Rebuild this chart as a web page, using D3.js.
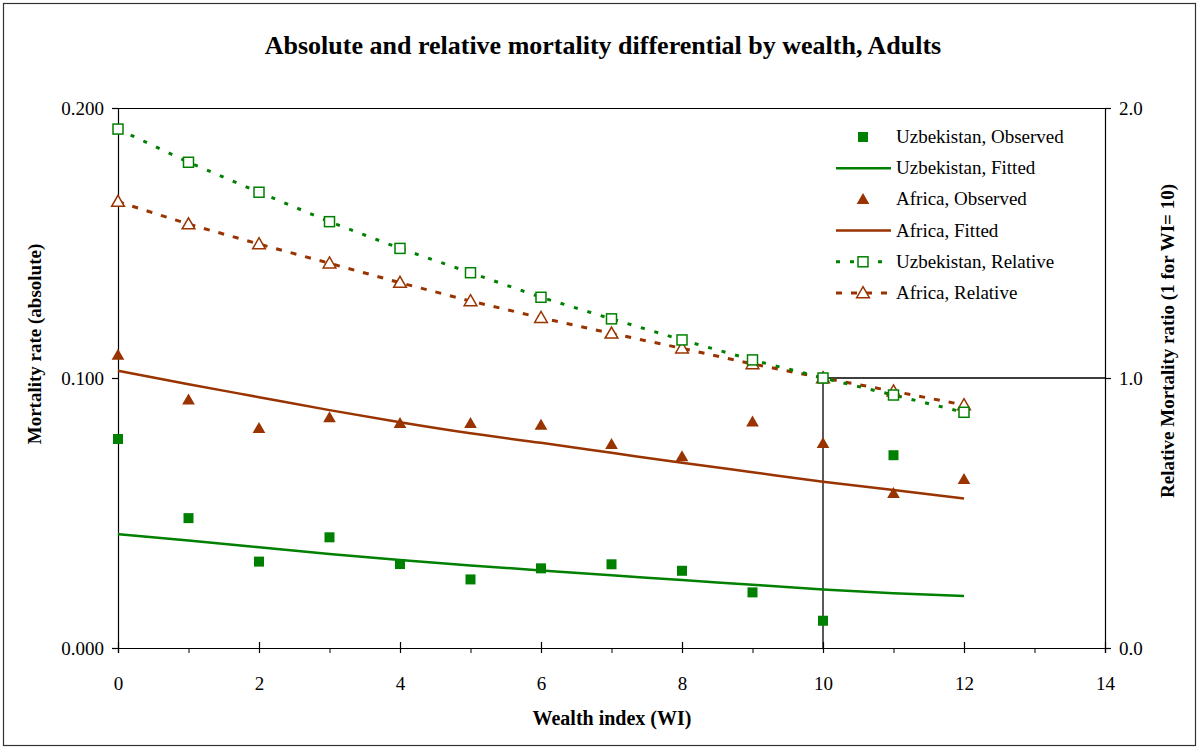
<!DOCTYPE html>
<html>
<head>
<meta charset="utf-8">
<script src="https://cdn.jsdelivr.net/npm/d3@7"></script>
<style>
  html, body { margin: 0; padding: 0; background: #fff; }
  svg { display: block; font-family: "Liberation Serif", "Times New Roman", serif; }
</style>
</head>
<body>
<svg id="chart" width="1199" height="749"></svg>
<script>
// ---- data ----
const wealth = [0, 1, 2, 3, 4, 5, 6, 7, 8, 9, 10, 11, 12];

const uzbObserved = [0.0774, 0.0481, 0.0320, 0.0410, 0.0311, 0.0254, 0.0295, 0.0310, 0.0286, 0.0206, 0.0101, 0.0714, null];
const uzbFitted   = [0.0422, 0.0398, 0.0373, 0.0348, 0.0326, 0.0306, 0.0287, 0.0269, 0.0252, 0.0234, 0.0217, 0.0203, 0.0193];
const afrObserved = [0.1085, 0.0919, 0.0814, 0.0853, 0.0832, 0.0832, 0.0826, 0.0754, 0.0709, 0.0838, 0.0758, 0.0573, 0.0625];
const afrFitted   = [0.1027, 0.0977, 0.0929, 0.0881, 0.0836, 0.0795, 0.0760, 0.0723, 0.0686, 0.0651, 0.0616, 0.0585, 0.0554];
const uzbRelative = [1.922, 1.799, 1.688, 1.579, 1.480, 1.390, 1.299, 1.219, 1.141, 1.067, 1.000, 0.937, 0.873];
const afrRelative = [1.653, 1.570, 1.496, 1.425, 1.353, 1.285, 1.223, 1.165, 1.110, 1.052, 1.000, 0.951, 0.900];

// reference guide: WI = 10, ratio = 1
const refX = [10, 10, 14];
const refY = [0, 1, 1];

const xTicks = [0, 2, 4, 6, 8, 10, 12, 14];
const xMinor = [1, 3, 5, 7, 9, 11, 13];
const yLeftTicks = [0, 0.1, 0.2];
const yRightTicks = [0, 1, 2];

const GREEN = '#008000';
const BROWN = '#993300';
const SERIF = '"Liberation Serif", "Times New Roman", serif';

const svg = d3.select('#chart');
const W = 1199, H = 749;
const m = { left: 118, right: 1105, top: 108, bottom: 648 };

// outer frame
svg.append('rect').attr('x', 3.5).attr('y', 3.5).attr('width', W - 7).attr('height', H - 7)
  .attr('fill', 'none').attr('stroke', '#333').attr('stroke-width', 1.2);

const x = d3.scaleLinear().domain([0, 14]).range([m.left, m.right]);
const yL = d3.scaleLinear().domain([0, 0.2]).range([m.bottom, m.top]);
const yR = d3.scaleLinear().domain([0, 2]).range([m.bottom, m.top]);

// title
svg.append('text').attr('x', 603).attr('y', 54).attr('text-anchor', 'middle')
  .attr('font-size', 26).attr('font-weight', 700).text('Absolute and relative mortality differential by wealth, Adults');

// plot frame (top line)
svg.append('line').attr('x1', m.left).attr('x2', m.right).attr('y1', m.top + 0.5).attr('y2', m.top + 0.5)
  .attr('stroke', '#000').attr('stroke-width', 1.2);

// axes
const fmtL = d3.format('.3f'), fmtR = d3.format('.1f');

const axL = svg.append('g').attr('transform', `translate(${m.left},0)`)
  .call(d3.axisLeft(yL).tickValues(yLeftTicks).tickFormat(fmtL).tickSize(6).tickPadding(8));
const axR = svg.append('g').attr('transform', `translate(${m.right},0)`)
  .call(d3.axisRight(yR).tickValues(yRightTicks).tickFormat(fmtR).tickSize(6).tickPadding(8));
const axB = svg.append('g').attr('transform', `translate(0,${m.bottom})`)
  .call(d3.axisBottom(x).tickValues(xTicks).tickSize(5).tickPadding(37));
axB.selectAll('.tick line').attr('y1', -6);
svg.append('g').attr('transform', `translate(0,${m.bottom})`)
  .call(d3.axisBottom(x).tickValues(xMinor).tickSize(5).tickFormat(''))
  .select('.domain').remove();

[axL, axR, axB].forEach(a => {
  a.attr('font-family', SERIF);
  a.select('.domain').attr('stroke', '#000').attr('stroke-width', 1.2);
  a.selectAll('.tick line').attr('stroke', '#000').attr('stroke-width', 1.2);
  a.selectAll('text').attr('font-size', 19).attr('fill', '#000');
});
axB.selectAll('text').attr('dy', '0');

// axis titles
svg.append('text').attr('x', 612).attr('y', 725).attr('text-anchor', 'middle')
  .attr('font-size', 20).attr('font-weight', 700).text('Wealth index (WI)');
svg.append('text').attr('transform', 'translate(41,344) rotate(-90)').attr('text-anchor', 'middle')
  .attr('font-size', 19).attr('font-weight', 700).text('Mortality rate (absolute)');
svg.append('text').attr('transform', 'translate(1174,341) rotate(-90)').attr('text-anchor', 'middle')
  .attr('font-size', 19).attr('font-weight', 700).text('Relative Mortality ratio (1 for WI= 10)');

// reference guide lines
svg.append('path')
  .attr('d', d3.line().x((d, i) => x(refX[i])).y(d => yR(d))(refY))
  .attr('fill', 'none').attr('stroke', '#000').attr('stroke-width', 1.3);

const zip = (ys) => wealth.map((w, i) => [w, ys[i]]).filter(d => d[1] != null);

// fitted lines
const lineL = d3.line().x(d => x(d[0])).y(d => yL(d[1])).curve(d3.curveMonotoneX);
svg.append('path').attr('d', lineL(zip(afrFitted))).attr('fill', 'none').attr('stroke', BROWN).attr('stroke-width', 2.5);
svg.append('path').attr('d', lineL(zip(uzbFitted))).attr('fill', 'none').attr('stroke', GREEN).attr('stroke-width', 2.5);

// relative lines
const lineR = d3.line().x(d => x(d[0])).y(d => yR(d[1]));
svg.append('path').attr('d', lineR(zip(afrRelative))).attr('fill', 'none').attr('stroke', BROWN)
  .attr('stroke-width', 3).attr('stroke-dasharray', '6,9');
svg.append('path').attr('d', lineR(zip(uzbRelative))).attr('fill', 'none').attr('stroke', GREEN)
  .attr('stroke-width', 3).attr('stroke-dasharray', '4,10');

// marker helpers
const tri = d3.symbol().type(d3.symbolTriangle).size(70);
function filledSquare(g, cx, cy) {
  g.append('rect').attr('x', cx - 5).attr('y', cy - 5).attr('width', 10).attr('height', 10).attr('fill', GREEN);
}
function openSquare(g, cx, cy) {
  g.append('rect').attr('x', cx - 5).attr('y', cy - 5).attr('width', 10).attr('height', 10)
    .attr('fill', '#fff').attr('stroke', GREEN).attr('stroke-width', 1.5);
}
function filledTri(g, cx, cy) {
  g.append('path').attr('d', tri()).attr('transform', `translate(${cx},${cy + 1})`).attr('fill', BROWN);
}
function openTri(g, cx, cy) {
  g.append('path').attr('d', tri()).attr('transform', `translate(${cx},${cy + 1})`)
    .attr('fill', '#fff').attr('stroke', BROWN).attr('stroke-width', 1.5);
}

const marks = svg.append('g');
zip(afrRelative).forEach(d => openTri(marks, x(d[0]), yR(d[1])));
zip(uzbRelative).forEach(d => openSquare(marks, x(d[0]), yR(d[1])));
zip(afrObserved).forEach(d => filledTri(marks, x(d[0]), yL(d[1])));
zip(uzbObserved).forEach(d => filledSquare(marks, x(d[0]), yL(d[1])));

// legend
const legendItems = [
  { label: 'Uzbekistan, Observed', kind: 'sq' },
  { label: 'Uzbekistan, Fitted', kind: 'lineG' },
  { label: 'Africa, Observed', kind: 'tri' },
  { label: 'Africa, Fitted', kind: 'lineB' },
  { label: 'Uzbekistan, Relative', kind: 'relG' },
  { label: 'Africa, Relative', kind: 'relB' },
];
const lg = svg.append('g');
legendItems.forEach((it, i) => {
  const cy = 137 + i * 31.2, sx = 863;
  if (it.kind === 'sq') filledSquare(lg, sx, cy);
  if (it.kind === 'tri') filledTri(lg, sx, cy);
  if (it.kind === 'lineG' || it.kind === 'lineB') {
    lg.append('line').attr('x1', 836).attr('x2', 891).attr('y1', cy).attr('y2', cy)
      .attr('stroke', it.kind === 'lineG' ? GREEN : BROWN).attr('stroke-width', 2.5);
  }
  if (it.kind === 'relG') {
    lg.append('line').attr('x1', 836).attr('x2', 891).attr('y1', cy).attr('y2', cy)
      .attr('stroke', GREEN).attr('stroke-width', 3).attr('stroke-dasharray', '4,10');
    openSquare(lg, sx, cy);
  }
  if (it.kind === 'relB') {
    lg.append('line').attr('x1', 836).attr('x2', 891).attr('y1', cy).attr('y2', cy)
      .attr('stroke', BROWN).attr('stroke-width', 3).attr('stroke-dasharray', '6,9');
    openTri(lg, sx, cy);
  }
  lg.append('text').attr('x', 896).attr('y', cy + 6).attr('font-size', 19).text(it.label);
});
</script>
</body>
</html>
